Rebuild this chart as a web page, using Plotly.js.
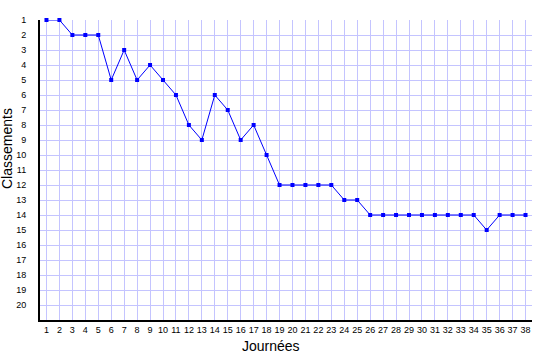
<!DOCTYPE html>
<html>
<head>
<meta charset="utf-8">
<script src="https://cdn.plot.ly/plotly-3.0.1.min.js"></script>
<style>
html,body{margin:0;padding:0;background:#fff;}
#chart{width:535px;height:360px;}
</style>
</head>
<body>
<div id="chart"></div>
<script>
var journees = [1,2,3,4,5,6,7,8,9,10,11,12,13,14,15,16,17,18,19,20,21,22,23,24,25,26,27,28,29,30,31,32,33,34,35,36,37,38];
var classements = [1,1,2,2,2,5,3,5,4,5,6,8,9,6,7,9,8,10,12,12,12,12,12,13,13,14,14,14,14,14,14,14,14,14,15,14,14,14];
var rangTicks = [1,2,3,4,5,6,7,8,9,10,11,12,13,14,15,16,17,18,19,20];

var trace = {
  x: journees,
  y: classements,
  type: 'scatter',
  mode: 'lines+markers',
  cliponaxis: false,
  line: {color: '#0000ff', width: 1},
  marker: {color: '#0000ff', size: 4, symbol: 'square'},
  hoverinfo: 'x+y'
};

var layout = {
  width: 535,
  height: 360,
  margin: {l: 40, r: 3, t: 20, b: 40},
  paper_bgcolor: '#ffffff',
  plot_bgcolor: '#ffffff',
  showlegend: false,
  font: {family: 'Liberation Sans, Arial, sans-serif', color: '#000'},
  xaxis: {
    range: [0.5, 38.5],
    tickvals: journees,
    ticktext: journees.map(String),
    tickfont: {size: 9, color: '#000'},
    showgrid: true,
    gridcolor: '#c4c4ff',
    gridwidth: 1,
    zeroline: false,
    showline: true,
    linecolor: '#000',
    linewidth: 2,
    ticks: '',
    ticklen: 0
  },
  yaxis: {
    range: [21, 1],
    tickvals: rangTicks,
    ticktext: rangTicks.map(String),
    tickfont: {size: 9, color: '#000'},
    showgrid: true,
    gridcolor: '#c4c4ff',
    gridwidth: 1,
    zeroline: false,
    showline: true,
    linecolor: '#000',
    linewidth: 2,
    ticks: 'outside',
    ticklen: 10,
    tickcolor: 'rgba(0,0,0,0)'
  },
  annotations: [
    {text: 'Journées', xref: 'paper', yref: 'paper', x: (271-40)/492, y: -(346-320)/300,
     xanchor: 'center', yanchor: 'middle', showarrow: false, font: {size: 14, color: '#000'}},
    {text: 'Classements', xref: 'paper', yref: 'paper', x: -(40-7)/492, y: (320-149)/300,
     xanchor: 'center', yanchor: 'middle', textangle: -90, showarrow: false, font: {size: 14, color: '#000'}}
  ]
};

Plotly.newPlot('chart', [trace], layout, {displayModeBar: false, staticPlot: true});
</script>
</body>
</html>
